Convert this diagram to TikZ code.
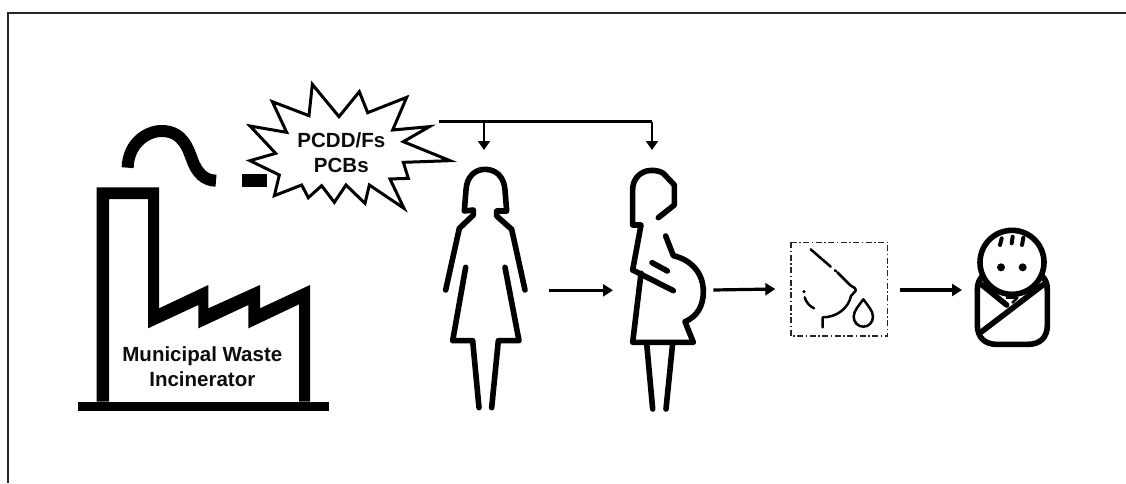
\documentclass[tikz,border=0pt]{standalone}
\usepackage{fontspec}
\setmainfont{Liberation Sans}
\usetikzlibrary{arrows.meta}
\definecolor{ink}{gray}{0.05}
\tikzset{
  zoomA/.style={shift={(60pt,-70pt)},x=0.33333pt,y=-0.33333pt},
  zoomB/.style={shift={(430pt,-110pt)},x=0.33333pt,y=-0.33333pt},
  zoomC/.style={shift={(700pt,-210pt)},x=0.33333pt,y=-0.33333pt},
  zoomD/.style={shift={(960pt,-215pt)},x=0.33333pt,y=-0.33333pt},
  zoomE/.style={shift={(240pt,-75pt)},x=0.33333pt,y=-0.33333pt},
  label/.style={font=\bfseries\fontsize{20.5}{25}\selectfont,text=ink,align=center,inner sep=0pt},
  figure/.style={draw=black,line width=5.6pt,line cap=round,line join=round},
  flow/.style={draw=black,line width=3.2pt,-{Triangle[length=10pt,width=12pt]}},
  feed/.style={draw=black,line width=2.8pt,-{Triangle[length=9pt,width=12pt]}},
  breast/.style={draw=black,line width=2.5pt,line cap=round,line join=round},
  babyline/.style={draw=black,line width=5.6pt,line cap=round,line join=round}
}
\begin{document}
\begin{tikzpicture}
\path[use as bounding box,fill=white] (0pt,0pt) rectangle (1126pt,-483pt);
% frame
\draw[line width=2pt,color=black!85] (8pt,-483pt) -- (8pt,-12.5pt) -- (1126pt,-12.5pt);
% factory
\begin{scope}[zoomA]
\fill[black] (55,995) rectangle (808,1022);
\fill[black] (110,352) -- (297,352) -- (297,715) -- (445,645) -- (445,715) -- (600,645) -- (600,715) -- (750,645) -- (750,995) -- (717,995) -- (717,703) -- (565,775) -- (565,705) -- (415,775) -- (415,705) -- (264,775) -- (264,387) -- (147,387) -- (147,995) -- (110,995) -- cycle;
\draw[line width=12pt] (203,293) .. controls (205,220) and (260,183) .. (305,183) .. controls (370,183) and (385,240) .. (395,265) .. controls (410,310) and (435,332) .. (468,332);
\fill[black] (545,313) rectangle (620,350);
\node[label] (factorytext) at (427,889) {Municipal Waste\\Incinerator};
\end{scope}
% burst
\begin{scope}[zoomE]
\draw[line width=3pt,line join=miter,miter limit=10,fill=white] (30,153) -- (140,172) -- (97,80) -- (207,122) -- (217,28) -- (297,125) -- (358,50) -- (383,113) -- (500,67) -- (458,165) -- (568,155) -- (490,200) -- (630,257) -- (490,262) -- (505,310) -- (450,312) -- (492,400) -- (388,330) -- (375,385) -- (318,330) -- (283,382) -- (245,332) -- (205,368) -- (185,330) -- (103,362) -- (118,300) -- (30,257) -- (107,235) -- cycle;
\node[label] (bursttext) at (304,232) {PCDD/Fs\\PCBs};
\end{scope}
% woman
\begin{scope}[zoomB]
\draw[figure] (47,540) -- (88,355) -- (130,315) -- (130,300) -- (103,303) -- (108,240) .. controls (110,200) and (135,178) .. (165,178) .. controls (198,178) and (222,200) .. (225,240) -- (230,303) -- (200,303) -- (200,318) -- (245,358) -- (285,540);
\draw[figure] (107,472) -- (68,692) -- (128,692) -- (147,893);
\draw[figure] (225,472) -- (267,692) -- (205,692) -- (185,893);
% pregnant woman
\draw[figure] (685,323) -- (733,285) -- (733,225) -- (700,190) .. controls (685,180) and (665,180) .. (650,183) .. controls (625,190) and (608,210) .. (608,240) -- (608,345) -- (633,345) -- (608,480) -- (730,542);
\draw[figure] (633,490) -- (608,697) -- (790,697) -- (765,635) .. controls (800,620) and (820,590) .. (820,545) .. controls (820,490) and (785,450) .. (730,437) -- (707,378);
\draw[figure] (666,458) -- (712,483);
\draw[figure] (650,700) -- (668,897);
\draw[figure] (728,700) -- (708,897);
\coordinate (source) at (27,35);
\coordinate (branchA) at (162,35);
\coordinate (branchB) at (666,35);
\coordinate (womanTop) at (162,120);
\coordinate (pregTop) at (666,120);
\coordinate (womanOut) at (357,541);
\coordinate (pregIn) at (549,541);
\draw[draw=black,line width=2.8pt] (source) -- (branchB);
\draw[feed] (branchA) -- (womanTop);
\draw[feed] (branchB) -- (pregTop);
\draw[flow] (womanOut) -- (pregIn);
\end{scope}
% breast
\begin{scope}[zoomC]
\draw[draw=black!85,line width=1.5pt,dash pattern=on 6pt off 2.5pt on 1.5pt off 2.5pt] (273,97) rectangle (563,378);
\draw[breast] (332,118) -- (392,170);
\draw[breast] (405,181) -- (408,184);
\draw[breast] (412,187) -- (450,225) .. controls (458,232) and (468,232) .. (467,242) .. controls (466,250) and (456,248) .. (453,258) .. controls (445,295) and (410,322) .. (368,322) -- (368,352);
\fill[black] (312,245) circle (1.8pt);
\draw[breast] (314,262) .. controls (318,276) and (328,288) .. (342,295);
\draw[breast] (490,268) .. controls (478,285) and (461,302) .. (461,320) .. controls (461,337) and (474,350) .. (490,350) .. controls (506,350) and (519,337) .. (519,320) .. controls (519,302) and (502,285) .. (490,268) -- cycle;
\coordinate (pregOut) at (40,240);
\coordinate (breastIn) at (226,237);
\coordinate (breastOut) at (600,240);
\coordinate (babyIn) at (786,240);
\draw[flow] (pregOut) -- (breastIn);
\draw[flow] (breastOut) -- (babyIn);
\end{scope}
% baby
\begin{scope}[zoomD]
\draw[babyline] (52,225) .. controls (52,205) and (58,192) .. (68,183);
\draw[babyline] (262,225) .. controls (262,205) and (256,192) .. (246,183);
\draw[babyline] (52,225) -- (52,330) .. controls (52,368) and (75,388) .. (110,388) -- (204,388) .. controls (240,388) and (262,368) .. (262,330) -- (262,225);
\draw[babyline,fill=white] (156,142) circle (32pt);
\draw[babyline] (65,350) -- (255,205);
\draw[babyline] (60,205) -- (140,270);
\draw[line width=2.5pt,line join=round] (138,248) -- (172,248) -- (156,264);
\draw[draw=black,line width=4pt,line cap=round] (120,90) -- (125,70);
\draw[draw=black,line width=4pt,line cap=round] (155,85) -- (158,65);
\draw[draw=black,line width=4pt,line cap=round] (186,90) -- (190,68);
\fill[black] (123,157) circle (4pt);
\fill[black] (188,157) circle (4pt);
\end{scope}
\end{tikzpicture}
\end{document}
